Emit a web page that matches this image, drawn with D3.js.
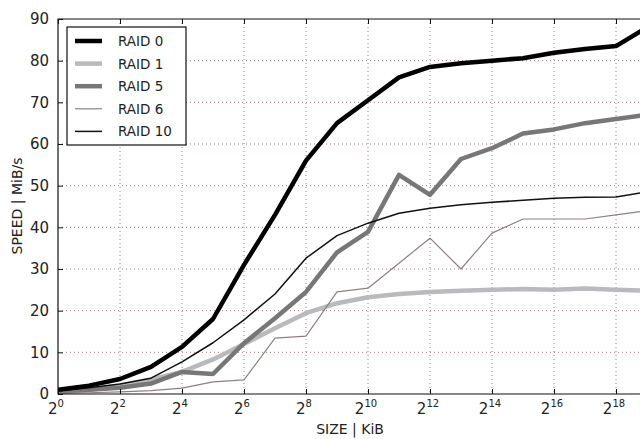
<!DOCTYPE html>
<html>
<head>
<meta charset="utf-8">
<script src="https://cdn.jsdelivr.net/npm/d3@7"></script>
<style>
  body { margin: 0; background: #fff; }
  text { font-family: "DejaVu Sans", sans-serif; fill: #222; }
</style>
</head>
<body>
<svg id="chart"></svg>
<script>
// exponents of the block size (2^k KiB)
var exponents = [0, 1, 2, 3, 4, 5, 6, 7, 8, 9, 10, 11, 12, 13, 14, 15, 16, 17, 18, 19];

var raid0  = [1, 2, 3.6, 6.5, 11.3, 18, 31, 43, 56, 65, 70.5, 76, 78.5, 79.4, 80, 80.6, 81.9, 82.8, 83.5, 88];
var raid1  = [0.5, 1, 2, 3.5, 5.3, 8.3, 12, 15.8, 19.4, 21.8, 23.2, 24, 24.5, 24.8, 25, 25.2, 25, 25.3, 25, 24.8];
var raid5  = [0.5, 1, 1.5, 2.5, 5.3, 4.8, 12.2, 18.2, 24.5, 34, 38.9, 52.6, 47.8, 56.4, 59, 62.5, 63.5, 65, 66, 67];
var raid6  = [0.2, 0.3, 0.5, 0.8, 1.4, 2.9, 3.4, 13.4, 13.9, 24.5, 25.4, 31.4, 37.4, 30, 38.6, 42, 42, 42, 43, 44];
var raid10 = [0.8, 1.5, 2.4, 3.8, 7.7, 12.3, 17.8, 24, 32.6, 38, 41, 43.4, 44.6, 45.4, 46, 46.5, 47, 47.2, 47.3, 48.5];

var seriesNames = ["RAID 0", "RAID 1", "RAID 5", "RAID 6", "RAID 10"];
var seriesValues = [raid0, raid1, raid5, raid6, raid10];
var seriesColors = ["#000000", "#b9babd", "#777777", "#8e8080", "#111111"];
var seriesWidths = [4.5, 4.5, 4.5, 1.2, 1.5];

var xTickExps = [0, 2, 4, 6, 8, 10, 12, 14, 16, 18, 20];
var xLabelExps = [0, 2, 4, 6, 8, 10, 12, 14, 16, 18];
var yTicks = [0, 10, 20, 30, 40, 50, 60, 70, 80, 90];

var size = { width: 640, height: 439 };
var margin = { left: 58, top: 19, bottom: 394, right: 678 };

var svg = d3.select("#chart")
    .attr("width", size.width)
    .attr("height", size.height);

var x = d3.scaleLog().base(2)
    .domain([1, Math.pow(2, 20)])
    .range([margin.left, margin.right]);
var y = d3.scaleLinear()
    .domain([0, 90])
    .range([margin.bottom, margin.top]);

svg.append("defs").append("clipPath").attr("id", "plotclip")
    .append("rect")
    .attr("x", margin.left).attr("y", margin.top)
    .attr("width", margin.right - margin.left)
    .attr("height", margin.bottom - margin.top);

// grid
var grid = svg.append("g");
grid.selectAll(".vgrid")
    .data(xTickExps.slice(1))
    .enter().append("line")
    .attr("x1", d => x(Math.pow(2, d))).attr("x2", d => x(Math.pow(2, d)))
    .attr("y1", margin.top).attr("y2", margin.bottom)
    .attr("stroke", "#9b8080").attr("stroke-width", 1)
    .attr("stroke-dasharray", "1,3");
grid.selectAll(".hgrid")
    .data(yTicks.slice(1, -1))
    .enter().append("line")
    .attr("x1", margin.left).attr("x2", margin.right)
    .attr("y1", d => y(d)).attr("y2", d => y(d))
    .attr("stroke", "#9b8080").attr("stroke-width", 1)
    .attr("stroke-dasharray", "1,3");

// lines
var line = d3.line()
    .x((d, i) => x(Math.pow(2, exponents[i])))
    .y(d => y(d));

var lines = svg.append("g").attr("clip-path", "url(#plotclip)");
[1, 2, 3, 4, 0].forEach(function(s) {
    lines.append("path")
        .attr("d", line(seriesValues[s]))
        .attr("fill", "none")
        .attr("stroke", seriesColors[s])
        .attr("stroke-width", seriesWidths[s])
        .attr("stroke-linejoin", "round");
});

// frame
svg.append("path")
    .attr("d", "M" + margin.right + "," + margin.top + "H" + margin.left + "V" + margin.bottom + "H" + margin.right)
    .attr("fill", "none").attr("stroke", "#111").attr("stroke-width", 1.2);

// ticks (inward, matplotlib style)
var xAxisBottom = d3.axisBottom(x)
    .tickValues(xTickExps.map(e => Math.pow(2, e)))
    .tickSize(-5).tickFormat("");
svg.append("g").attr("transform", "translate(0," + margin.bottom + ")")
    .call(xAxisBottom).call(g => g.select(".domain").remove());
var xAxisTop = d3.axisTop(x)
    .tickValues(xTickExps.map(e => Math.pow(2, e)))
    .tickSize(-5).tickFormat("");
svg.append("g").attr("transform", "translate(0," + margin.top + ")")
    .call(xAxisTop).call(g => g.select(".domain").remove());
var yAxis = d3.axisLeft(y).tickValues(yTicks).tickSize(-5).tickPadding(9);
svg.append("g").attr("transform", "translate(" + margin.left + ",0)")
    .call(yAxis)
    .call(g => g.select(".domain").remove())
    .call(g => g.selectAll("text").style("font-size", "15px").attr("fill", "#222"));
svg.selectAll(".tick line").attr("stroke", "#111");

// x tick labels with superscript
var xl = svg.append("g").selectAll(".xlabel")
    .data(xLabelExps)
    .enter().append("text")
    .attr("x", d => x(Math.pow(2, d)) - 2)
    .attr("y", 414)
    .attr("text-anchor", "middle")
    .style("font-size", "15px");
xl.append("tspan").text("2");
xl.append("tspan").attr("dy", -7).style("font-size", "10px").text(d => d);

// axis titles
svg.append("text")
    .attr("x", 350).attr("y", 434)
    .attr("text-anchor", "middle")
    .style("font-size", "14px")
    .text("SIZE | KiB");
svg.append("text")
    .attr("transform", "translate(22,206) rotate(-90)")
    .attr("text-anchor", "middle")
    .style("font-size", "14px")
    .text("SPEED | MiB/s");

// legend
var legend = svg.append("g");
legend.append("rect")
    .attr("x", 67).attr("y", 27)
    .attr("width", 119).attr("height", 118)
    .attr("fill", "#fff").attr("stroke", "#111").attr("stroke-width", 1.2);
var items = legend.selectAll(".item")
    .data(seriesNames)
    .enter().append("g")
    .attr("transform", (d, i) => "translate(0," + (41 + i * 22.6) + ")");
items.append("line")
    .attr("x1", 75).attr("x2", 102)
    .attr("stroke", (d, i) => seriesColors[i])
    .attr("stroke-width", (d, i) => seriesWidths[i]);
items.append("text")
    .attr("x", 118).attr("y", 5)
    .style("font-size", "13.5px")
    .text(d => d);
</script>
</body>
</html>
